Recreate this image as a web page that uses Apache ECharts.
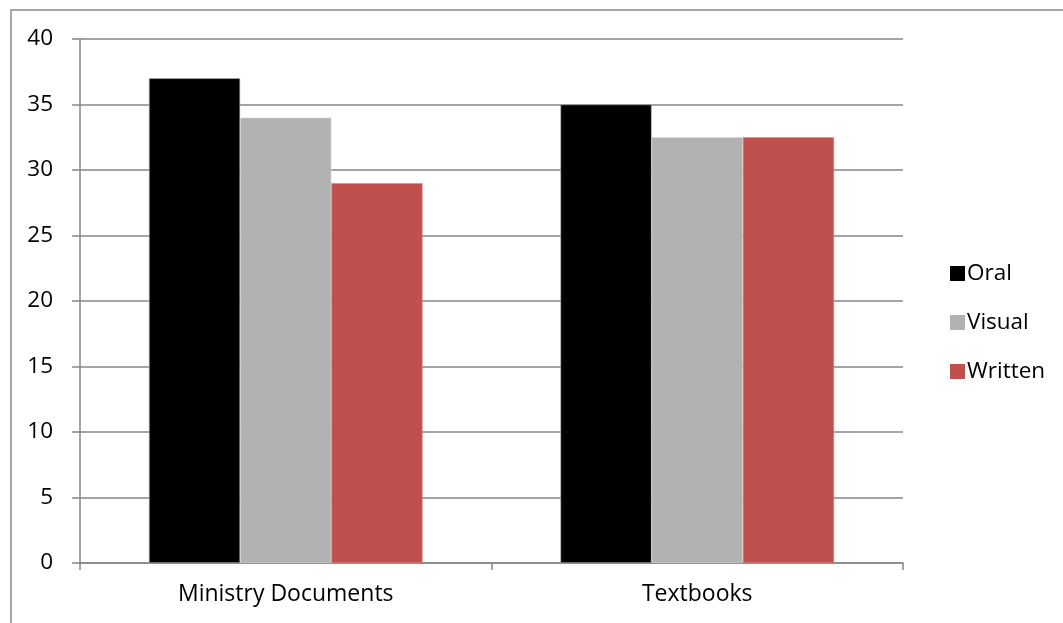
<!DOCTYPE html>
<html>
<head>
<meta charset="utf-8">
<script src="https://cdn.jsdelivr.net/npm/echarts@6/dist/echarts.min.js"></script>
<style>
  html, body { margin: 0; padding: 0; background: #ffffff; }
  #chart { width: 1063px; height: 623px; }
</style>
</head>
<body>
<div id="chart"></div>
<script>
// Categories and series values
const categories = ['Ministry Documents', 'Textbooks'];
const oral = [37, 35];
const visual = [34, 32.5];
const written = [29, 32.5];
const yTicks = { min: 0, max: 40, interval: 5 };

const font = '"Open Sans", "Noto Sans", sans-serif';
const fontSize = 22.5;
const gridColor = '#868686';

const chart = echarts.init(document.getElementById('chart'), null, { renderer: 'canvas' });

chart.setOption({
  backgroundColor: '#ffffff',
  animation: false,
  graphic: [{
    type: 'rect',
    shape: { x: 11, y: 10, width: 1100, height: 700 },
    style: { fill: 'none', stroke: '#898989', lineWidth: 1.5 },
    silent: true
  }],
  grid: { left: 80, right: 160, top: 39, bottom: 60, containLabel: false },
  legend: {
    orient: 'vertical',
    left: 945,
    top: 257,
    itemWidth: 15,
    itemHeight: 15,
    itemGap: 26,
    icon: 'rect',
    itemStyle: { borderWidth: 0 },
    textStyle: { fontFamily: font, fontSize: fontSize, color: '#000000', padding: [0, 0, 0, -3] },
    data: ['Oral', 'Visual', 'Written']
  },
  xAxis: {
    type: 'category',
    data: categories,
    axisLine: { show: true, lineStyle: { color: gridColor, width: 1.5 } },
    axisTick: { show: true, length: 7, lineStyle: { color: gridColor, width: 1.5 } },
    axisLabel: { fontFamily: font, fontSize: 23, color: '#000000', margin: 20 },
    splitLine: { show: false }
  },
  yAxis: {
    type: 'value',
    min: yTicks.min,
    max: yTicks.max,
    interval: yTicks.interval,
    axisLine: { show: true, lineStyle: { color: gridColor, width: 1.5 } },
    axisTick: { show: true, length: 8, lineStyle: { color: gridColor, width: 1.5 } },
    axisLabel: { fontFamily: font, fontSize: fontSize, color: '#000000', margin: 27 },
    splitLine: { show: true, lineStyle: { color: gridColor, width: 1.5 } }
  },
  series: [
    {
      name: 'Oral', type: 'bar', data: oral,
      barGap: '0%', barCategoryGap: '33.5%',
      itemStyle: { color: '#000000', borderColor: '#b8b8b8', borderWidth: 0.6 }
    },
    {
      name: 'Visual', type: 'bar', data: visual,
      barGap: '0%', barCategoryGap: '33.5%',
      itemStyle: { color: '#b2b2b2', borderColor: '#d6d6d6', borderWidth: 0.6 }
    },
    {
      name: 'Written', type: 'bar', data: written,
      barGap: '0%', barCategoryGap: '33.5%',
      itemStyle: { color: '#c0504d', borderColor: '#dd8a88', borderWidth: 0.6 }
    }
  ]
});
</script>
</body>
</html>
